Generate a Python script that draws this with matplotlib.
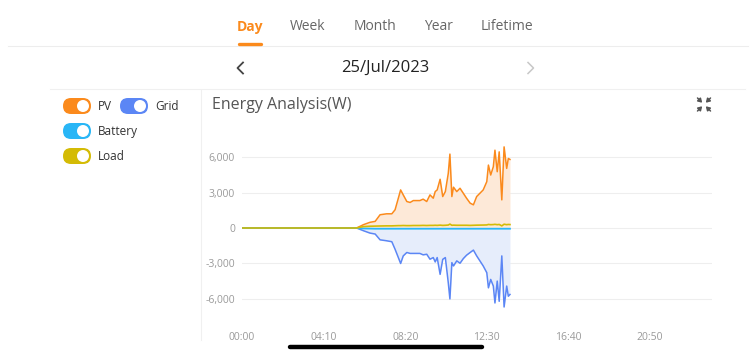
import matplotlib.pyplot as plt
from matplotlib.patches import FancyBboxPatch, Circle

plt.rcParams['font.family'] = ['Open Sans', 'DejaVu Sans']

# Day view, minutes since midnight
minutes = [0, 351, 372, 392, 408, 423, 443, 459, 469, 479,
           486, 494, 505, 515, 525, 545, 555, 566, 576, 586,
           592, 598, 607, 615, 623, 632, 637, 643, 648, 658,
           668, 678, 688, 699, 709, 719, 739, 750, 755, 762,
           770, 775, 782, 788, 796, 803, 811, 816, 821]
pv = [0, 0, 280, 480, 560, 1120, 1200, 1200, 1540, 2520,
      3220, 2800, 2240, 2160, 2320, 2320, 2440, 2240, 2800, 2520,
      3080, 3220, 4120, 2660, 3080, 4620, 6250, 2660, 3450, 3080,
      3360, 2940, 2520, 2100, 1960, 2660, 3220, 3920, 5320, 4480,
      5180, 6580, 4760, 6440, 2380, 6860, 5040, 5880, 5800]
grid = [0, 0, -230, -430, -510, -1000, -1080, -1160, -1800, -2500,
        -3000, -2360, -2070, -2150, -2150, -2150, -2270, -2220, -2640, -2500,
        -2870, -2500, -3920, -2650, -2500, -4630, -6000, -2930, -3210, -2780,
        -2980, -2590, -2300, -2070, -1870, -2360, -3210, -3780, -5060, -4350,
        -4910, -6340, -4490, -6200, -2360, -6680, -4910, -5770, -5620]
battery = [0, 0, -40, -50, -60, -60, -60, -60, -60, -60,
           -60, -60, -60, -60, -60, -60, -60, -60, -60, -60,
           -60, -60, -60, -60, -60, -60, -60, -60, -60, -60,
           -60, -60, -60, -60, -60, -60, -60, -60, -60, -60,
           -60, -60, -60, -60, -60, -60, -60, -60, -60]
load = [0, 0, 120, 150, 160, 170, 180, 180, 190, 200,
        200, 210, 200, 200, 210, 210, 220, 210, 220, 220,
        230, 220, 240, 220, 230, 250, 330, 230, 240, 230,
        230, 230, 230, 220, 230, 240, 250, 260, 300, 280,
        290, 310, 280, 300, 180, 320, 280, 300, 290]

x_ticks = [0, 250, 500, 750, 1000, 1250]
x_labels = ['00:00', '04:10', '08:20', '12:30', '16:40', '20:50']
y_ticks = [-6000, -3000, 0, 3000, 6000]
y_labels = ['-6,000', '-3,000', '0', '3,000', '6,000']

tabs = ['Day', 'Week', 'Month', 'Year', 'Lifetime']
tab_x = [250, 308, 375, 438, 507]

C_PV = '#fb8a1c'
C_GRID = '#5b86f5'
C_BAT = '#29b6f6'
C_LOAD = '#d4bb05'

W, H = 756, 355
fig = plt.figure(figsize=(W / 100, H / 100), dpi=100)

# page layer in pixel coordinates
ui = fig.add_axes([0, 0, 1, 1])
ui.set_xlim(0, W)
ui.set_ylim(H, 0)
ui.axis('off')

for t, x in zip(tabs, tab_x):
    if t == 'Day':
        ui.text(x, 27, t, ha='center', va='center', fontsize=10, color=C_PV, fontweight='bold')
    else:
        ui.text(x, 27, t, ha='center', va='center', fontsize=10, color='#666666')
ui.plot([8, 748], [46, 46], color='#ededed', lw=0.8)
ui.plot([239, 261], [44, 44], color=C_PV, lw=2.4, solid_capstyle='round')

ui.text(385, 68, '25/Jul/2023', ha='center', va='center', fontsize=12, color='#222222')
ui.plot([243, 237.5, 243], [62.5, 68, 73.5], color='#444444', lw=1.3)
ui.plot([528, 533.5, 528], [62.5, 68, 73.5], color='#c8c8c8', lw=1.1)
ui.plot([50, 745], [89, 89], color='#f0f0f0', lw=0.8)
ui.plot([201, 201], [90, 340], color='#f0f0f0', lw=0.8)


def toggle(cx, cy, color):
    w, h = 28, 16
    ui.add_patch(FancyBboxPatch((cx - w / 2, cy - h / 2), w, h,
                                boxstyle='round,pad=0,rounding_size=8',
                                fc=color, ec='none'))
    ui.add_patch(Circle((cx + w / 2 - h / 2, cy), h / 2 - 2, fc='white', ec='none'))


toggle(77, 106, C_PV)
ui.text(98, 106, 'PV', va='center', fontsize=8.5, color='#333333')
toggle(134, 106, C_GRID)
ui.text(155, 106, 'Grid', va='center', fontsize=8.5, color='#333333')
toggle(77, 131, C_BAT)
ui.text(98, 131, 'Battery', va='center', fontsize=8.5, color='#333333')
toggle(77, 156, C_LOAD)
ui.text(98, 156, 'Load', va='center', fontsize=8.5, color='#333333')

ui.text(212, 105, 'Energy Analysis(W)', va='center', fontsize=11.5, color='#555555')

# collapse icon: four arrows pointing to the centre
for sx, sy in [(-1, -1), (1, -1), (-1, 1), (1, 1)]:
    ui.annotate('', xy=(704 + sx * 1.8, 104.5 + sy * 1.8), xytext=(704 + sx * 6.5, 104.5 + sy * 6.5),
                arrowprops=dict(arrowstyle='-|>,head_length=0.22,head_width=0.14',
                                color='#555555', lw=1.1, shrinkA=0, shrinkB=0))

ui.plot([290, 482], [347, 347], color='black', lw=3.2, solid_capstyle='round')

# chart
ax = fig.add_axes([242 / W, (H - 315.5) / H, 470 / W, 175 / H])
ax.patch.set_alpha(0)
ax.set_xlim(0, 1440)
ax.set_ylim(-7400, 7400)
for s in ax.spines.values():
    s.set_visible(False)
ax.set_yticks(y_ticks, y_labels)
ax.set_xticks(x_ticks, x_labels)
ax.tick_params(axis='both', length=0, labelsize=7.5, labelcolor='#9a9a9a')
ax.tick_params(axis='y', pad=5)
ax.tick_params(axis='x', pad=12)
ax.grid(axis='y', color='#eeeeee', lw=0.8)
ax.set_axisbelow(True)

ax.fill_between(minutes, pv, 0, color='#fde9d8', lw=0)
ax.fill_between(minutes, grid, 0, color='#e6edfb', lw=0)
ax.plot(minutes, pv, color=C_PV, lw=1.1)
ax.plot(minutes, grid, color=C_GRID, lw=1.1)
ax.plot(minutes, battery, color=C_BAT, lw=1.3)
ax.plot(minutes, load, color=C_LOAD, lw=1.2)

fig.savefig('out.png', dpi=100)
